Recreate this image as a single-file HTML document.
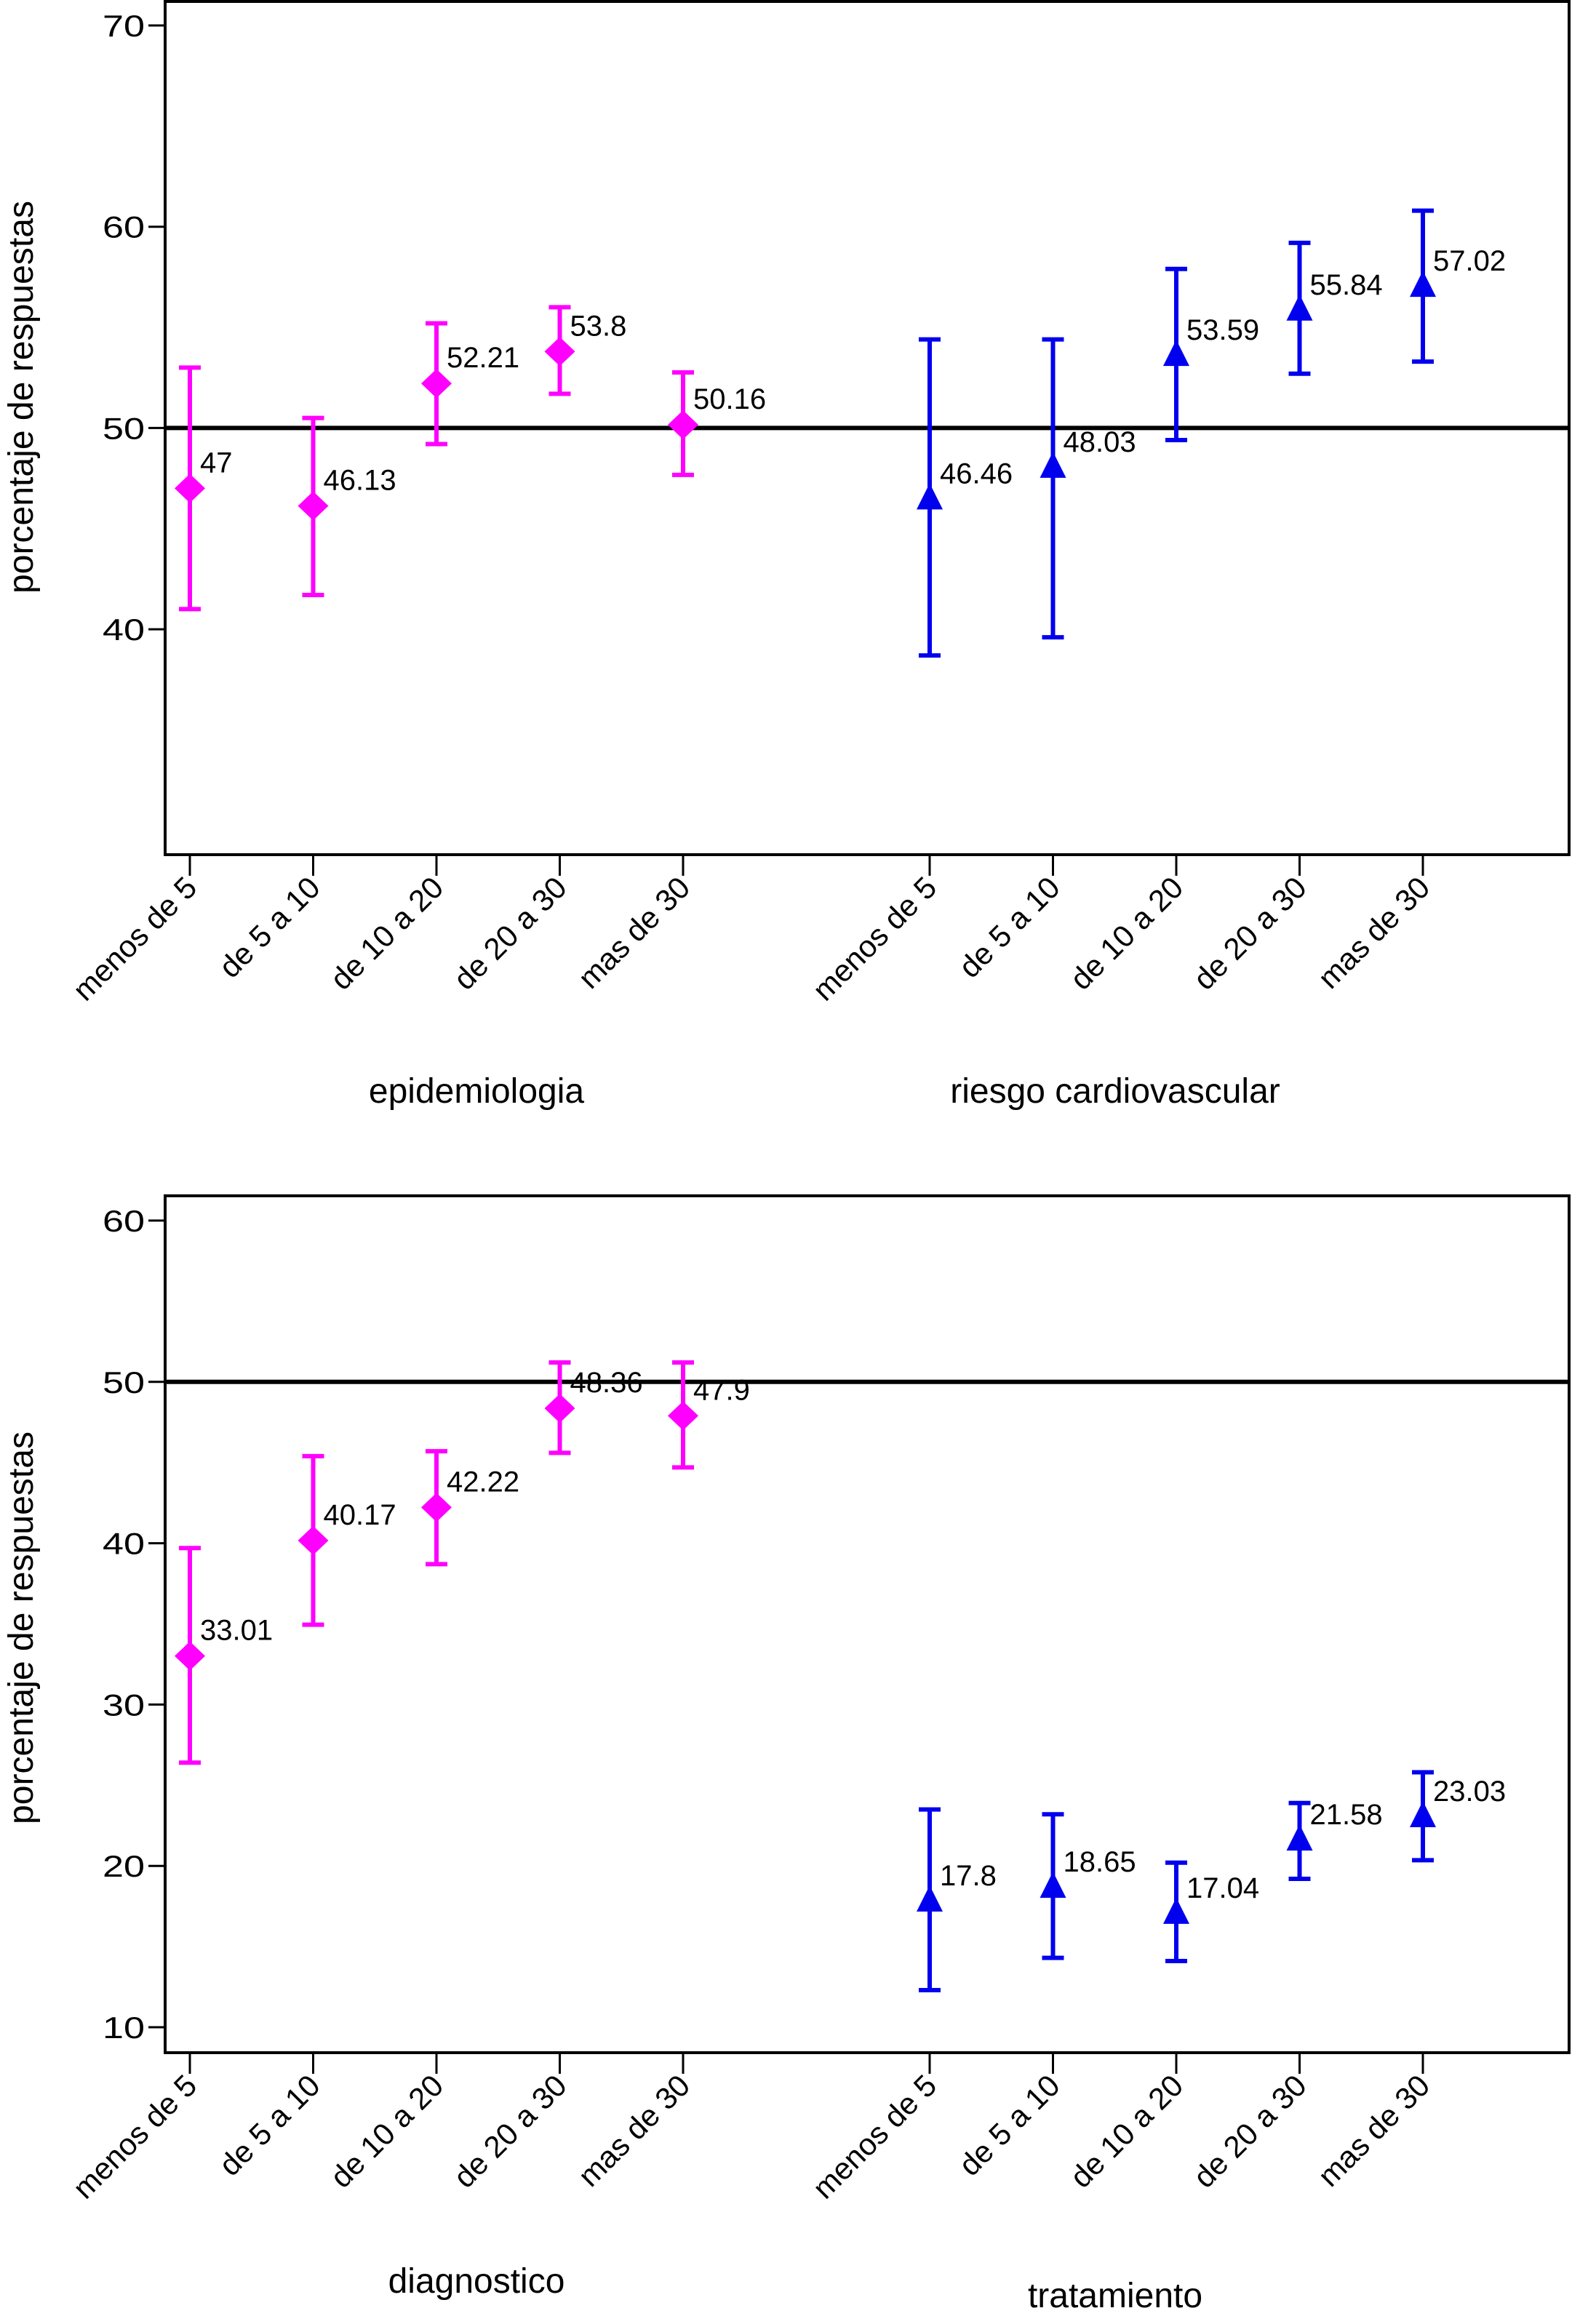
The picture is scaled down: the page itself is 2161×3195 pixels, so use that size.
<!DOCTYPE html>
<html><head><meta charset="utf-8"><style>
html,body{margin:0;padding:0;background:#fff}
svg{display:block}
text{font-family:"Liberation Sans",sans-serif;fill:#000}
</style></head><body>
<svg id="chart" width="2161" height="3195" viewBox="0 0 2161 3195" xmlns="http://www.w3.org/2000/svg"></svg>
<script>
const categories = ["menos de 5","de 5 a 10","de 10 a 20","de 20 a 30","mas de 30"];
const groupTitles = [["epidemiologia","riesgo cardiovascular"],["diagnostico","tratamiento"]];
// top panel
const epiMean = [47,46.13,52.21,53.8,50.16];
const epiLo = [41.0,41.7,49.2,51.7,47.67];
const epiHi = [53.0,50.5,55.2,56.0,52.76];
const rcvMean = [46.46,48.03,53.59,55.84,57.02];
const rcvLo = [38.7,39.6,49.4,52.7,53.3];
const rcvHi = [54.4,54.4,57.9,59.2,60.8];
const topTicks = [40,50,60,70];
// bottom panel
const diaMean = [33.01,40.17,42.22,48.36,47.9];
const diaLo = [26.4,34.95,38.7,45.6,44.7];
const diaHi = [39.7,45.4,45.7,51.2,51.2];
const traMean = [17.8,18.65,17.04,21.58,23.03];
const traLo = [12.3,14.3,14.1,19.2,20.35];
const traHi = [23.5,23.2,20.2,23.9,25.8];
const botTicks = [10,20,30,40,50,60];

const NS="http://www.w3.org/2000/svg";
const svg=document.getElementById('chart');
function el(t,a,p){const e=document.createElementNS(NS,t);for(const k in a)e.setAttribute(k,a[k]);(p||svg).appendChild(e);return e;}
const left=227,right=2157;
function xPos(i){return 261+i*169.5;}

const panels=[
 {top:2,bottom:1175,v0:70,y0:35,pxPer:27.67,ticks:topTicks,series:[[epiMean,epiLo,epiHi],[rcvMean,rcvLo,rcvHi]],titleY:[1516,1516],ytc:546,name:'top-panel'},
 {top:1644,bottom:2822,v0:60,y0:1678,pxPer:22.18,ticks:botTicks,series:[[diaMean,diaLo,diaHi],[traMean,traLo,traHi]],titleY:[3152,3172],ytc:2238,name:'bottom-panel'}
];
const titleX=[655,1533];
const colors=['#ff00ff','#0000ee'];

panels.forEach((P,pi)=>{
 const g=el('g',{});
 
 
 const y=v=>P.y0+(P.v0-v)*P.pxPer;
 const box=el('rect',{x:left,y:P.top,width:right-left,height:P.bottom-P.top,fill:'none',stroke:'#000','stroke-width':4},g);
 
 
 P.ticks.forEach(t=>{
  el('line',{x1:204,x2:left,y1:y(t),y2:y(t),stroke:'#000','stroke-width':3},g);
  const tx=el('text',{x:199,y:y(t)+15,'text-anchor':'end','font-size':42,textLength:58,lengthAdjust:'spacingAndGlyphs'},g);
  
  
  tx.textContent=t;
 });
 const ref=el('line',{x1:left,x2:right,y1:y(50),y2:y(50),stroke:'#000','stroke-width':6},g);
 
 
 const yt=el('text',{x:0,y:0,'text-anchor':'middle','font-size':48,textLength:540,lengthAdjust:'spacingAndGlyphs',transform:`translate(45,${P.ytc}) rotate(-90)`},g);
 
 
 yt.textContent='porcentaje de respuestas';
 P.series.forEach((S,si)=>{
  const [m,lo,hi]=S;
  const c=colors[si];
  m.forEach((v,i)=>{
   const x=xPos(i+si*6);
   el('line',{x1:x,x2:x,y1:P.bottom,y2:P.bottom+29,stroke:'#000','stroke-width':3},g);
   const lab=el('text',{x:0,y:0,'text-anchor':'end','font-size':42,transform:`translate(${x+12},${P.bottom+48}) rotate(-45)`},g);
   
   
   lab.textContent=categories[i];
   const eb=el('g',{stroke:c,'stroke-width':6,fill:'none'},g);
   
   
   el('line',{x1:x,x2:x,y1:y(lo[i]),y2:y(hi[i])},eb);
   el('line',{x1:x-15,x2:x+15,y1:y(lo[i]),y2:y(lo[i])},eb);
   el('line',{x1:x-15,x2:x+15,y1:y(hi[i]),y2:y(hi[i])},eb);
   const cy=y(v);
   let mk;
   if(si===0) mk=el('polygon',{points:`${x},${cy-20} ${x+21},${cy} ${x},${cy+20} ${x-21},${cy}`,fill:c},g);
   else mk=el('polygon',{points:`${x},${cy-22} ${x+18},${cy+14} ${x-18},${cy+14}`,fill:c},g);
   
   
   const vl=el('text',{x:x+14,y:cy-22,'font-size':40},g);
   
   
   vl.textContent=String(v);
  });
  const gt=el('text',{x:titleX[si],y:P.titleY[si],'text-anchor':'middle','font-size':48},g);
  
  
  gt.textContent=groupTitles[pi][si];
 });
});
</script>
</body></html>
